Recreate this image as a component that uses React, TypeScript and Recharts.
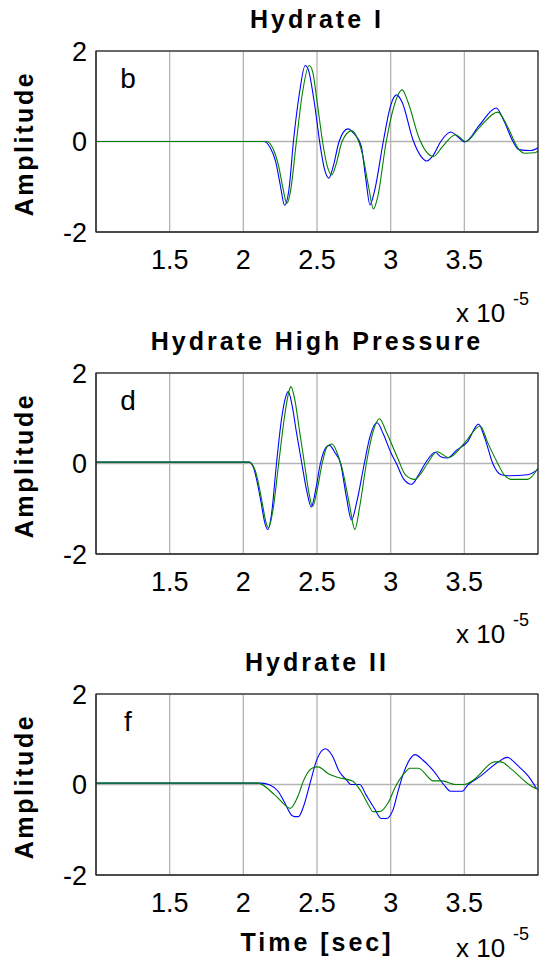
import React from 'react';
import { LineChart, Line, XAxis, YAxis, CartesianGrid } from 'recharts';

const xTicks = [1.5, 2, 2.5, 3, 3.5];
const yTicks = [-2, 0, 2];
const titles = ['Hydrate I', 'Hydrate High Pressure', 'Hydrate II'];
const panelLetters = ['b', 'd', 'f'];
const xLabel = 'Time [sec]';
const yLabel = 'Amplitude';

// Panel 1 (Hydrate I)
const p1BlueT = [1.0, 2.14, 2.18, 2.22, 2.25, 2.28, 2.31, 2.34, 2.38, 2.42, 2.44, 2.48, 2.52, 2.55, 2.58, 2.61, 2.65, 2.71, 2.75, 2.8, 2.83, 2.86, 2.89, 2.95, 3.0, 3.04, 3.08, 3.15, 3.2, 3.245, 3.29, 3.34, 3.41, 3.45, 3.505, 3.6, 3.716, 3.77, 3.83, 3.87, 3.95, 4.0];
const p1BlueA = [0, 0, -0.12, -0.45, -0.95, -1.41, -1.05, 0, 1.05, 1.68, 1.6, 0.9, -0.05, -0.6, -0.81, -0.55, 0, 0.28, 0.18, -0.1, -0.8, -1.4, -1.1, 0, 0.8, 1.03, 0.85, 0.05, -0.3, -0.43, -0.3, 0, 0.21, 0.12, -0.01, 0.35, 0.74, 0.45, 0, -0.18, -0.2, -0.14];
const p1GreenT = [1.0, 2.16, 2.2, 2.24, 2.27, 2.295, 2.32, 2.36, 2.4, 2.447, 2.47, 2.5, 2.54, 2.57, 2.6, 2.63, 2.67, 2.736, 2.77, 2.81, 2.85, 2.883, 2.91, 2.97, 3.02, 3.078, 3.12, 3.19, 3.24, 3.29, 3.35, 3.44, 3.51, 3.6, 3.727, 3.79, 3.865, 3.91, 3.98, 4.0];
const p1GreenA = [0, 0, -0.15, -0.55, -1.05, -1.37, -1.1, 0, 1.05, 1.68, 1.55, 0.9, -0.05, -0.55, -0.74, -0.5, 0, 0.24, 0.1, -0.3, -1.0, -1.49, -1.25, 0, 0.75, 1.14, 0.85, 0.1, -0.22, -0.33, -0.12, 0.15, 0, 0.3, 0.65, 0.35, -0.15, -0.26, -0.25, -0.2];

// Panel 2 (Hydrate High Pressure)
const p2BlueT = [1.0, 2.04, 2.07, 2.09, 2.12, 2.145, 2.167, 2.19, 2.225, 2.26, 2.29, 2.305, 2.33, 2.36, 2.397, 2.43, 2.461, 2.49, 2.523, 2.56, 2.585, 2.62, 2.66, 2.7, 2.734, 2.77, 2.821, 2.86, 2.908, 2.95, 3.0, 3.039, 3.09, 3.142, 3.19, 3.234, 3.303, 3.34, 3.383, 3.45, 3.52, 3.596, 3.64, 3.693, 3.75, 3.8, 3.93, 4.0];
const p2BlueA = [0.03, 0.03, -0.1, -0.35, -0.85, -1.3, -1.46, -1.15, 0, 1.0, 1.5, 1.59, 1.3, 0.7, 0, -0.6, -0.96, -0.6, 0, 0.35, 0.4, 0.25, 0, -0.75, -1.25, -0.85, 0, 0.6, 0.9, 0.65, 0.25, 0, -0.35, -0.46, -0.25, 0, 0.25, 0.15, 0.12, 0.3, 0.47, 0.87, 0.55, 0, -0.25, -0.27, -0.25, -0.13];
const p2GreenT = [1.0, 2.04, 2.08, 2.1, 2.13, 2.15, 2.172, 2.2, 2.24, 2.28, 2.31, 2.323, 2.35, 2.38, 2.415, 2.44, 2.47, 2.5, 2.535, 2.57, 2.603, 2.635, 2.67, 2.72, 2.757, 2.79, 2.835, 2.88, 2.924, 2.97, 3.05, 3.1, 3.165, 3.21, 3.25, 3.314, 3.394, 3.5, 3.608, 3.66, 3.727, 3.77, 3.82, 3.93, 4.0];
const p2GreenA = [0.03, 0.03, -0.15, -0.4, -0.9, -1.25, -1.42, -1.05, 0, 1.05, 1.6, 1.7, 1.4, 0.75, 0, -0.55, -0.95, -0.6, 0, 0.38, 0.43, 0.25, -0.1, -0.9, -1.46, -0.95, 0, 0.7, 0.99, 0.7, 0.1, -0.25, -0.35, -0.2, 0, 0.26, 0.13, 0.45, 0.83, 0.45, 0, -0.25, -0.35, -0.35, -0.1];

// Panel 3 (Hydrate II)
const p3BlueT = [1.0, 2.122, 2.18, 2.236, 2.282, 2.328, 2.35, 2.374, 2.408, 2.454, 2.5, 2.557, 2.603, 2.649, 2.706, 2.729, 2.79, 2.833, 2.89, 2.936, 2.97, 3.016, 3.05, 3.085, 3.131, 3.165, 3.222, 3.291, 3.36, 3.406, 3.486, 3.521, 3.612, 3.727, 3.791, 3.865, 3.933, 3.99];
const p3BlueA = [0.03, 0.03, -0.01, -0.15, -0.41, -0.68, -0.71, -0.71, -0.49, 0.04, 0.56, 0.79, 0.64, 0.3, 0.08, 0, 0, -0.23, -0.53, -0.75, -0.75, -0.56, -0.15, 0.23, 0.56, 0.66, 0.53, 0.3, 0, -0.15, -0.15, -0.02, 0.19, 0.49, 0.6, 0.41, 0.19, -0.09];
const p3GreenT = [1.0, 2.099, 2.213, 2.305, 2.317, 2.374, 2.408, 2.466, 2.507, 2.58, 2.649, 2.741, 2.798, 2.856, 2.878, 2.924, 2.982, 3.028, 3.096, 3.131, 3.188, 3.291, 3.349, 3.44, 3.498, 3.567, 3.693, 3.704, 3.75, 3.819, 3.956, 4.0];
const p3GreenA = [0.03, 0.03, -0.23, -0.51, -0.53, -0.23, 0.08, 0.36, 0.39, 0.23, 0.15, 0.08, -0.15, -0.49, -0.6, -0.6, -0.41, -0.08, 0.26, 0.36, 0.36, 0.08, 0.08, 0, 0, 0.11, 0.49, 0.5, 0.5, 0.34, -0.04, -0.11];

const toPoints = (t: number[], a: number[]) => t.map((x, i) => ({ t: x, a: a[i] }));

const panels = [
  { blue: toPoints(p1BlueT, p1BlueA), green: toPoints(p1GreenT, p1GreenA) },
  { blue: toPoints(p2BlueT, p2BlueA), green: toPoints(p2GreenT, p2GreenA) },
  { blue: toPoints(p3BlueT, p3BlueA), green: toPoints(p3GreenT, p3GreenA) },
];

const panelTops = [0, 322, 643];
const plotTop = 51;
const plotLeft = 96;
const plotRight = 538;
const plotH = 181;
const FONT = '"Liberation Sans", Arial, Helvetica, sans-serif';
const tickStyle = { fill: '#000', fontSize: 27, fontFamily: FONT };
const tickLineStyle = { stroke: '#000', strokeWidth: 2.2 };
const noTick = () => <g />;

function Panel({ idx }: { idx: number }) {
  const p = panels[idx];
  return (
    <div style={{ position: 'absolute', left: 0, top: panelTops[idx], width: 542, height: 322 }}>
      <LineChart width={542} height={322} margin={{ top: plotTop, right: 542 - plotRight, bottom: 322 - plotTop - plotH - 40, left: plotLeft - 40 }}>
        <CartesianGrid stroke="#b4b4b4" strokeWidth={1.3} />
        <XAxis xAxisId="bm" dataKey="t" type="number" domain={[1, 4]} ticks={xTicks} allowDataOverflow interval={0}
          orientation="bottom" height={0} mirror tickSize={4} tick={noTick} tickLine={tickLineStyle} stroke="#333" />
        <XAxis dataKey="t" type="number" domain={[1, 4]} ticks={xTicks} allowDataOverflow interval={0}
          orientation="bottom" height={40} tickLine={false} tickSize={6} tickMargin={12} tick={tickStyle} stroke="#333" />
        <XAxis xAxisId="top" dataKey="t" type="number" domain={[1, 4]} ticks={xTicks} allowDataOverflow interval={0}
          orientation="top" height={0} mirror tickSize={4} tick={noTick} tickLine={tickLineStyle} stroke="#333" />
        <YAxis yAxisId="lm" type="number" domain={[-2, 2]} ticks={yTicks} allowDataOverflow interval={0}
          width={0} mirror tickSize={4} tick={noTick} tickLine={tickLineStyle} stroke="#333" />
        <YAxis type="number" domain={[-2, 2]} ticks={yTicks} allowDataOverflow interval={0}
          width={40} tickLine={false} tickSize={6} tickMargin={3} tick={tickStyle} stroke="#333" />
        <YAxis yAxisId="right" orientation="right" type="number" domain={[-2, 2]} ticks={yTicks} allowDataOverflow interval={0}
          width={0} mirror tickSize={4} tick={noTick} tickLine={tickLineStyle} stroke="#333" />
        <Line data={p.blue} dataKey="a" type="monotone" stroke="#0000ff" strokeWidth={1.1} dot={false} isAnimationActive={false} />
        <Line data={p.green} dataKey="a" type="monotone" stroke="#008000" strokeWidth={1.1} dot={false} isAnimationActive={false} />
      </LineChart>
    </div>
  );
}

export default function App() {
  const plotCenterX = (plotLeft + plotRight) / 2;
  const multBase = [322, 643, 957];
  return (
    <div style={{ position: 'absolute', left: 0, top: 0, width: 542, height: 965, background: '#fff', overflow: 'hidden' }}>
      {[0, 1, 2].map((i) => <Panel key={i} idx={i} />)}
      <svg width={542} height={965} style={{ position: 'absolute', left: 0, top: 0, pointerEvents: 'none' }}>
        {[0, 1, 2].map((i) => {
          const top = panelTops[i] + plotTop;
          const cy = top + plotH / 2 + 2;
          return (
            <g key={i}>
              <rect x={plotLeft} y={top} width={plotRight - plotLeft} height={plotH} fill="none" stroke="#2a2a2a" strokeWidth={1.2} />
              <text x={plotCenterX} y={top - 23} textAnchor="middle" fontFamily={FONT} fontWeight="bold" fontSize={25} letterSpacing={3} fill="#000">{titles[i]}</text>
              <text x={33} y={cy} textAnchor="middle" fontFamily={FONT} fontWeight="bold" fontSize={25} letterSpacing={2.6} fill="#000" transform={`rotate(-90, 33, ${cy})`}>{yLabel}</text>
              <text x={128} y={top + 37} textAnchor="middle" fontFamily={FONT} fontSize={28} fill="#000">{panelLetters[i]}</text>
              <text x={456} y={multBase[i]} fontFamily={FONT} fontSize={26} fill="#000">x 10</text>
              <text x={513} y={multBase[i] - 17} fontFamily={FONT} fontSize={18} fill="#000">-5</text>
            </g>
          );
        })}
        <text x={plotCenterX} y={951} textAnchor="middle" fontFamily={FONT} fontWeight="bold" fontSize={25} letterSpacing={3} fill="#000">{xLabel}</text>
      </svg>
    </div>
  );
}
